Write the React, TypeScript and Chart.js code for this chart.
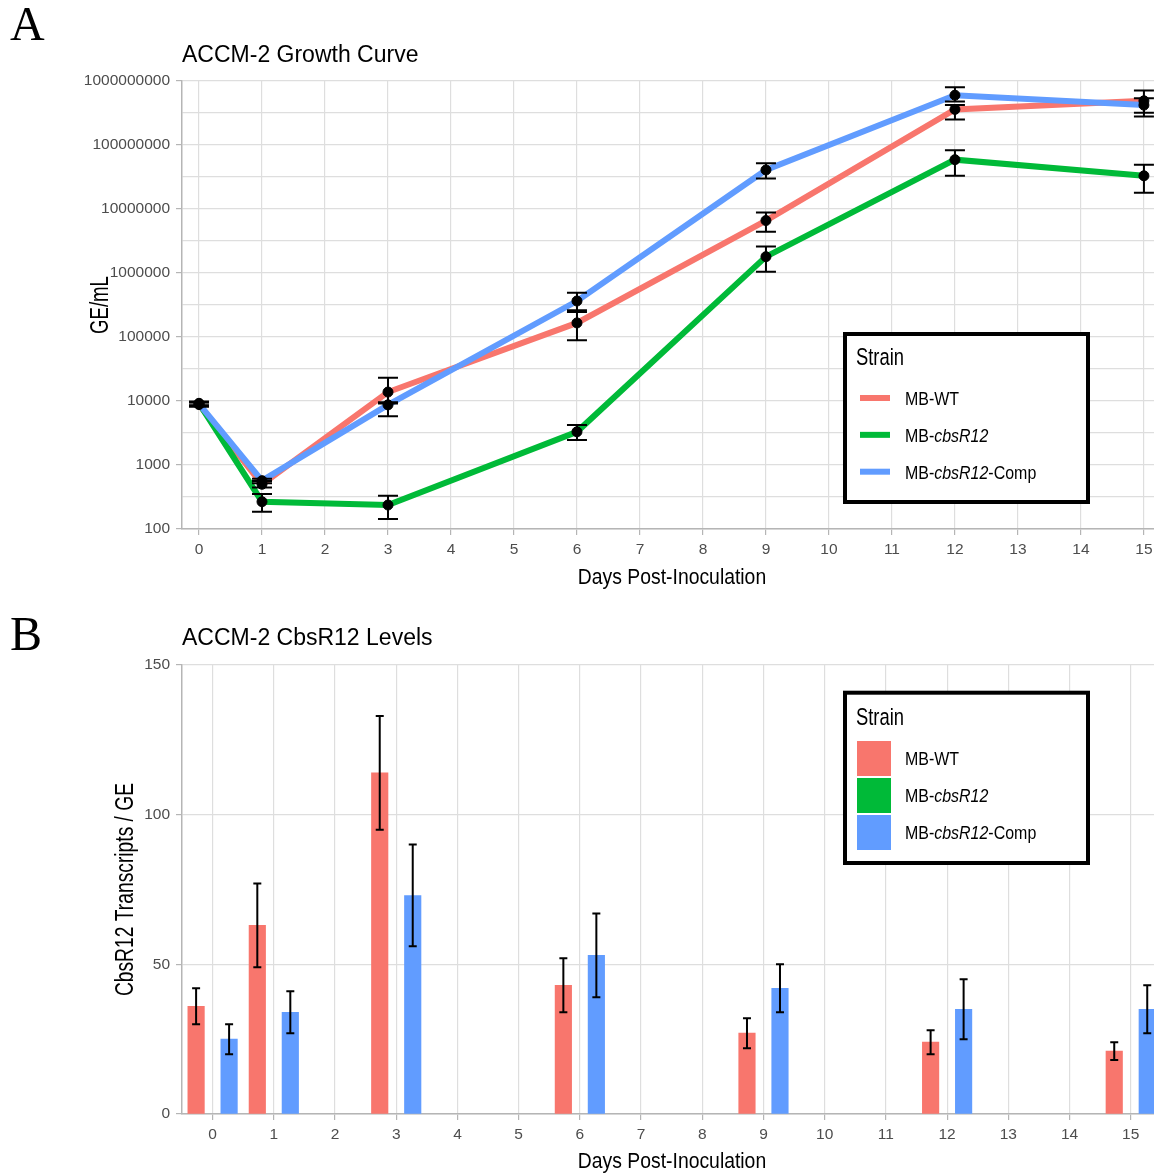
import React, { useEffect, useRef } from 'react';
import { Chart, registerables } from 'chart.js';

Chart.register(...registerables);

const FONT = "'Liberation Sans', Arial, Helvetica, sans-serif";
const SERIF = "'Liberation Serif', 'Times New Roman', serif";

// ---------- Panel A: growth curve ----------
const days = [0, 1, 3, 6, 9, 12, 15];
const strainNames = ['MB-WT', 'MB-cbsR12', 'MB-cbsR12-Comp'];
const strainColors = ['#F8766D', '#00BA38', '#619CFF'];

const wtMean = [8800, 500, 13800, 166000, 6.6e6, 3.6e8, 4.9e8];
const wtLow = [8100, 445, 9100, 89000, 4.4e6, 2.5e8, 3.2e8];
const wtHigh = [9500, 560, 23000, 245000, 8.8e6, 4.2e8, 7.1e8];

const mutMean = [9200, 267, 237, 3300, 1.8e6, 5.9e7, 3.3e7];
const mutLow = [8600, 186, 143, 2450, 1.05e6, 3.3e7, 1.8e7];
const mutHigh = [9800, 352, 330, 4200, 2.6e6, 8.3e7, 4.9e7];

const compMean = [9000, 569, 8700, 365000, 4.07e7, 6.0e8, 4.2e8];
const compLow = [8400, 520, 5800, 262000, 3.0e7, 4.8e8, 2.8e8];
const compHigh = [9600, 610, 9600, 490000, 5.2e7, 8.0e8, 5.4e8];

const growthYTicks = [100, 1000, 10000, 100000, 1000000, 10000000, 100000000, 1000000000];
const dayTicks = [0, 1, 2, 3, 4, 5, 6, 7, 8, 9, 10, 11, 12, 13, 14, 15];

// ---------- Panel B: CbsR12 levels ----------
const levelDays = [0, 1, 3, 6, 9, 12, 15];
const wtLevel = [36, 63, 114, 43, 27, 24, 21];
const wtLevelErr = [6, 14, 19, 9, 5, 4, 3];
const mutLevel = [null, null, null, null, null, null, null];
const compLevel = [25, 34, 73, 53, 42, 35, 35];
const compLevelErr = [5, 7, 17, 14, 8, 10, 8];
const levelYTicks = [0, 50, 100, 150];

const GRID = '#DEDEDE';
const AXIS = '#B5B5B5';
const TICKTEXT = '#4D4D4D';

type Seg = { t: string; it: boolean };

function labelSegments(name: string): Seg[] {
  const k = name.indexOf('cbsR12');
  if (k < 0) return [{ t: name, it: false }];
  return [
    { t: name.slice(0, k), it: false },
    { t: 'cbsR12', it: true },
    { t: name.slice(k + 6), it: false },
  ].filter((s) => s.t.length > 0);
}

function drawText(ctx: any, segs: Seg[], x: number, y: number, size: number, sx: number, opts: any) {
  ctx.save();
  ctx.translate(x, y);
  if (opts.rotate) ctx.rotate(-Math.PI / 2);
  ctx.scale(sx, 1);
  ctx.fillStyle = opts.color || '#000';
  ctx.textBaseline = 'alphabetic';
  ctx.textAlign = 'left';
  const fontFor = (it: boolean) => `${it ? 'italic ' : ''}${size}px ${FONT}`;
  let total = 0;
  const widths = segs.map((s) => {
    ctx.font = fontFor(s.it);
    const w = ctx.measureText(s.t).width;
    total += w;
    return w;
  });
  let cx = opts.align === 'center' ? -total / 2 : 0;
  const by = size * 0.358;
  segs.forEach((s, i) => {
    ctx.font = fontFor(s.it);
    ctx.fillText(s.t, cx, by);
    cx += widths[i];
  });
  ctx.restore();
}

const isMajorLog = (v: number) => Math.abs(Math.log10(v) - Math.round(Math.log10(v))) < 1e-6;

function logTicksWithMinor() {
  const out: number[] = [];
  growthYTicks.forEach((v, i) => {
    out.push(v);
    if (i < growthYTicks.length - 1) out.push(Math.sqrt(v * growthYTicks[i + 1]));
  });
  return out;
}

const growthSeries = [
  { mean: wtMean, low: wtLow, high: wtHigh },
  { mean: mutMean, low: mutLow, high: mutHigh },
  { mean: compMean, low: compLow, high: compHigh },
];

const growthErrorBars = {
  id: 'growthErrorBars',
  afterDatasetsDraw(chart: any) {
    const { ctx } = chart;
    const x = chart.scales.x;
    const y = chart.scales.y;
    ctx.save();
    ctx.strokeStyle = '#000';
    ctx.lineWidth = 2;
    growthSeries.forEach((s) => {
      s.low.forEach((lo, i) => {
        const px = x.getPixelForValue(days[i]);
        const y1 = y.getPixelForValue(lo);
        const y2 = y.getPixelForValue(s.high[i]);
        ctx.beginPath();
        ctx.moveTo(px, y1);
        ctx.lineTo(px, y2);
        ctx.moveTo(px - 10, y1);
        ctx.lineTo(px + 10, y1);
        ctx.moveTo(px - 10, y2);
        ctx.lineTo(px + 10, y2);
        ctx.stroke();
      });
    });
    ctx.restore();
  },
};

const growthOverlay = {
  id: 'growthOverlay',
  afterDraw(chart: any) {
    const { ctx, chartArea } = chart;
    ctx.save();
    drawText(ctx, [{ t: 'Days Post-Inoculation', it: false }], 672, 576, 22, 0.88, { align: 'center' });
    drawText(ctx, [{ t: 'GE/mL', it: false }], 99, (chartArea.top + chartArea.bottom) / 2, 25, 0.745, { align: 'center', rotate: true });
    ctx.fillStyle = '#fff';
    ctx.fillRect(845, 334, 243, 168);
    ctx.strokeStyle = '#000';
    ctx.lineWidth = 4;
    ctx.strokeRect(845, 334, 243, 168);
    drawText(ctx, [{ t: 'Strain', it: false }], 856, 356, 24.5, 0.75, {});
    strainNames.forEach((name, i) => {
      const cy = 398 + i * 36.85;
      ctx.strokeStyle = strainColors[i];
      ctx.lineWidth = 6;
      ctx.lineCap = 'butt';
      ctx.beginPath();
      ctx.moveTo(860, cy);
      ctx.lineTo(890, cy);
      ctx.stroke();
      drawText(ctx, labelSegments(name), 905, cy, 19, 0.84, {});
    });
    ctx.restore();
  },
};

const levelErrorBars = {
  id: 'levelErrorBars',
  afterDatasetsDraw(chart: any) {
    const { ctx } = chart;
    const y = chart.scales.y;
    const sets = [
      { idx: 0, vals: wtLevel, err: wtLevelErr },
      { idx: 2, vals: compLevel, err: compLevelErr },
    ];
    ctx.save();
    ctx.strokeStyle = '#000';
    ctx.lineWidth = 2;
    sets.forEach((s) => {
      const meta = chart.getDatasetMeta(s.idx);
      s.vals.forEach((v, i) => {
        const el = meta.data[i];
        if (!el) return;
        const px = el.x;
        const y1 = y.getPixelForValue(v - s.err[i]);
        const y2 = y.getPixelForValue(v + s.err[i]);
        ctx.beginPath();
        ctx.moveTo(px, y1);
        ctx.lineTo(px, y2);
        ctx.moveTo(px - 4, y1);
        ctx.lineTo(px + 4, y1);
        ctx.moveTo(px - 4, y2);
        ctx.lineTo(px + 4, y2);
        ctx.stroke();
      });
    });
    ctx.restore();
  },
};

const levelOverlay = {
  id: 'levelOverlay',
  afterDraw(chart: any) {
    const { ctx, chartArea } = chart;
    ctx.save();
    drawText(ctx, [{ t: 'Days Post-Inoculation', it: false }], 672, 560, 22, 0.88, { align: 'center' });
    drawText(ctx, [{ t: 'CbsR12 Transcripts / GE', it: false }], 124, (chartArea.top + chartArea.bottom) / 2, 25, 0.77, { align: 'center', rotate: true });
    ctx.fillStyle = '#fff';
    ctx.fillRect(845, 92.7, 243, 170.3);
    ctx.strokeStyle = '#000';
    ctx.lineWidth = 4;
    ctx.strokeRect(845, 92.7, 243, 170.3);
    drawText(ctx, [{ t: 'Strain', it: false }], 856, 116.5, 24.5, 0.75, {});
    strainNames.forEach((name, i) => {
      const top = 140 + i * 37;
      ctx.fillStyle = strainColors[i];
      ctx.fillRect(857, top + 1, 34, 35);
      drawText(ctx, labelSegments(name), 905, top + 18.5, 19, 0.84, {});
    });
    ctx.restore();
  },
};

function commonTitle(text: string, top: number, bottom: number) {
  return {
    display: true,
    text,
    align: 'start',
    fullSize: false,
    color: '#000',
    font: { size: 23, weight: 'normal', family: FONT },
    padding: { top, bottom },
  };
}

export default function App() {
  const topRef = useRef<HTMLCanvasElement | null>(null);
  const botRef = useRef<HTMLCanvasElement | null>(null);

  useEffect(() => {
    Chart.defaults.font.family = FONT;

    const points: any[] = [];
    growthSeries.forEach((s) => s.mean.forEach((m, i) => points.push({ x: days[i], y: m })));

    const growth = new Chart(topRef.current as any, {
      type: 'line',
      data: {
        datasets: [
          {
            type: 'scatter',
            label: 'means',
            data: points,
            backgroundColor: '#000',
            borderColor: '#000',
            pointRadius: 5,
            pointHoverRadius: 5,
            showLine: false,
            order: 0,
          } as any,
          ...growthSeries.map((s, k) => ({
            label: strainNames[k],
            data: s.mean.map((m, i) => ({ x: days[i], y: m })),
            borderColor: strainColors[k],
            backgroundColor: strainColors[k],
            borderWidth: 6,
            pointRadius: 0,
            pointHoverRadius: 0,
            tension: 0,
            fill: false,
            order: 3 - k,
          })),
        ],
      },
      options: {
        animation: false,
        responsive: false,
        events: [],
        layout: { padding: 0, autoPadding: false },
        plugins: {
          legend: { display: false },
          tooltip: { enabled: false },
          title: commonTitle('ACCM-2 Growth Curve', 41.7, 11.7) as any,
        },
        scales: {
          x: {
            type: 'linear',
            min: -0.27,
            max: 15.16,
            afterBuildTicks: (s: any) => {
              s.ticks = dayTicks.map((v) => ({ value: v }));
            },
            afterFit: (s: any) => {
              s.height = 71;
              s.paddingLeft = 0;
              s.paddingRight = 0;
            },
            grid: { color: GRID, lineWidth: 1.2, drawTicks: true, tickLength: 6, tickColor: AXIS },
            border: { display: true, color: AXIS, width: 1.5 },
            ticks: { color: TICKTEXT, font: { size: 15.5 }, padding: 5, autoSkip: false, maxRotation: 0, callback: (v: any) => String(v) },
          },
          y: {
            type: 'logarithmic',
            min: 100,
            max: 1000000000,
            afterBuildTicks: (s: any) => {
              s.ticks = logTicksWithMinor().map((v) => ({ value: v }));
            },
            afterFit: (s: any) => {
              s.width = 182;
              s.paddingTop = 0;
              s.paddingBottom = 0;
            },
            grid: {
              color: GRID,
              lineWidth: 1.2,
              drawTicks: true,
              tickLength: 6,
              tickColor: (c: any) => (c.tick && isMajorLog(c.tick.value) ? AXIS : 'rgba(0,0,0,0)'),
            },
            border: { display: true, color: AXIS, width: 1.5 },
            ticks: {
              color: TICKTEXT,
              font: { size: 15.5 },
              padding: 6,
              autoSkip: false,
              callback: (v: any) => (isMajorLog(Number(v)) ? Math.round(Number(v)).toString() : ''),
            },
          },
        },
      } as any,
      plugins: [growthErrorBars, growthOverlay],
    });

    const levels = new Chart(botRef.current as any, {
      type: 'bar',
      data: {
        datasets: [
          { label: strainNames[0], data: levelDays.map((d, i) => ({ x: d, y: wtLevel[i] })), backgroundColor: strainColors[0], barThickness: 16.5 },
          { label: strainNames[1], data: levelDays.map((d, i) => ({ x: d, y: mutLevel[i] })), backgroundColor: strainColors[1], barThickness: 16.5 },
          { label: strainNames[2], data: levelDays.map((d, i) => ({ x: d, y: compLevel[i] })), backgroundColor: strainColors[2], barThickness: 16.5 },
        ] as any,
      },
      options: {
        animation: false,
        responsive: false,
        events: [],
        layout: { padding: 0, autoPadding: false },
        plugins: {
          legend: { display: false },
          tooltip: { enabled: false },
          title: commonTitle('ACCM-2 CbsR12 Levels', 25.2, 12.2) as any,
        },
        scales: {
          x: {
            type: 'linear',
            min: -0.5,
            max: 15.38,
            offset: false,
            afterBuildTicks: (s: any) => {
              s.ticks = dayTicks.map((v) => ({ value: v }));
            },
            afterFit: (s: any) => {
              s.height = 59;
              s.paddingLeft = 0;
              s.paddingRight = 0;
            },
            grid: { offset: false, color: GRID, lineWidth: 1.2, drawTicks: true, tickLength: 6, tickColor: AXIS },
            border: { display: true, color: AXIS, width: 1.5 },
            ticks: { color: TICKTEXT, font: { size: 15.5 }, padding: 5, autoSkip: false, maxRotation: 0, callback: (v: any) => String(v) },
          },
          y: {
            type: 'linear',
            min: 0,
            max: 150,
            afterBuildTicks: (s: any) => {
              s.ticks = levelYTicks.map((v) => ({ value: v }));
            },
            afterFit: (s: any) => {
              s.width = 182;
              s.paddingTop = 0;
              s.paddingBottom = 0;
            },
            grid: { color: GRID, lineWidth: 1.2, drawTicks: true, tickLength: 6, tickColor: AXIS },
            border: { display: true, color: AXIS, width: 1.5 },
            ticks: { color: TICKTEXT, font: { size: 15.5 }, padding: 6, autoSkip: false, callback: (v: any) => String(v) },
          },
        },
      } as any,
      plugins: [levelErrorBars, levelOverlay],
    });

    return () => {
      growth.destroy();
      levels.destroy();
    };
  }, []);

  const letter: React.CSSProperties = {
    position: 'absolute',
    left: 10,
    fontFamily: SERIF,
    fontSize: 48,
    lineHeight: '48px',
    color: '#000',
    margin: 0,
  };

  return (
    <div style={{ position: 'absolute', left: 0, top: 0, width: 1154, height: 1173, overflow: 'hidden', background: '#fff' }}>
      <canvas ref={topRef} width={1154} height={600} style={{ position: 'absolute', left: 0, top: 0, width: 1154, height: 600 }} />
      <canvas ref={botRef} width={1154} height={573} style={{ position: 'absolute', left: 0, top: 600, width: 1154, height: 573 }} />
      <div style={{ ...letter, top: 0 }}>A</div>
      <div style={{ ...letter, top: 610 }}>B</div>
    </div>
  );
}
